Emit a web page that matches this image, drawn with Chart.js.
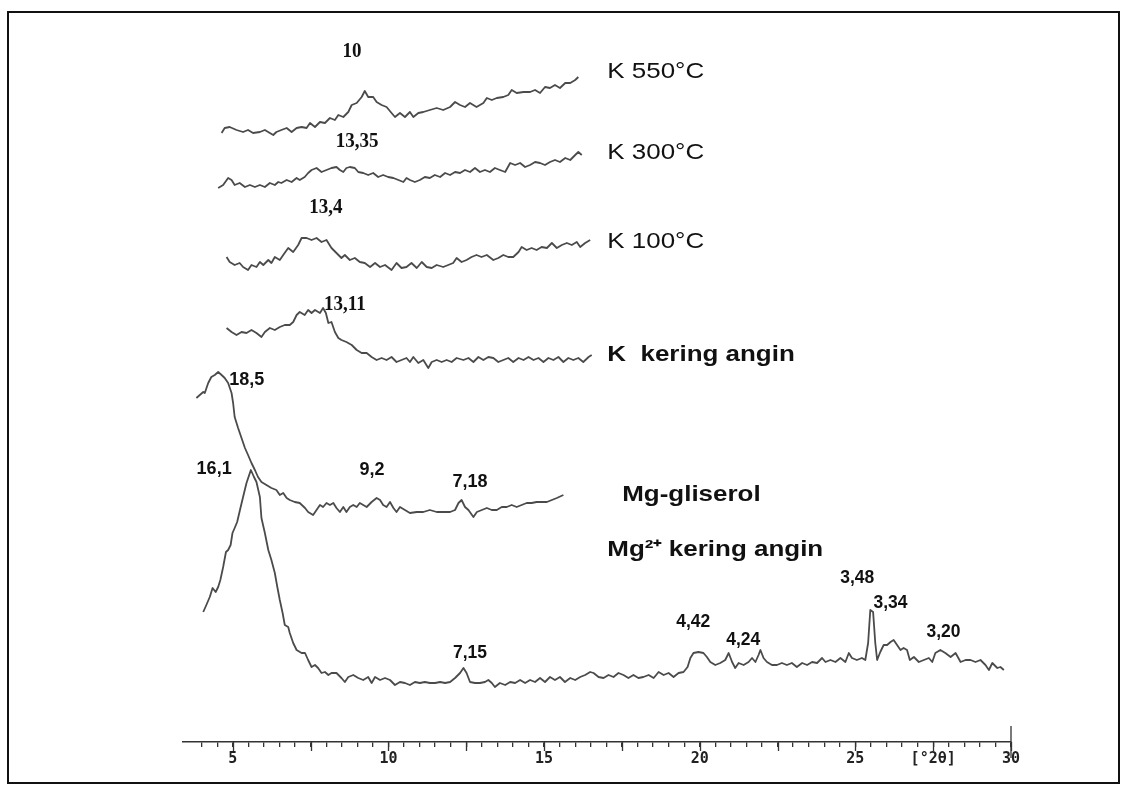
<!DOCTYPE html>
<html>
<head>
<meta charset="utf-8">
<title>XRD</title>
<script src="https://cdn.jsdelivr.net/npm/chart.js@4.4.1/dist/chart.umd.min.js"></script>
<style>
    html, body { margin: 0; padding: 0; background: #fff; overflow: hidden; }
    #wrap { position: relative; width: 1127px; height: 791px; }
    #frame { position: absolute; left: 7px; top: 11px; width: 1113px; height: 773px; border: 2px solid #111; box-sizing: border-box; pointer-events: none; }
</style>
</head>
<body>
<div id="wrap">
    <canvas id="xrdChart"></canvas>
    <div id="frame"></div>
</div>
<script>
// ==================== Data (2theta in degrees, counts in arbitrary units, traces stacked) ====================
const k550Theta = [4.64,4.74,4.90,5.12,5.33,5.49,5.65,5.87,6.03,6.19, 6.30,6.40,6.56,6.73,6.89,7.05,7.21,7.37,7.48,7.64,
    7.80,7.96,8.12,8.28,8.39,8.55,8.71,8.82,8.98,9.14, 9.24,9.35,9.51,9.62,9.78,9.94,10.10,10.21,10.37,10.53,
    10.69,10.80,10.96,11.12,11.33,11.55,11.76,11.98,12.14,12.30, 12.46,12.62,12.83,13.05,13.16,13.32,13.48,13.69,13.85,13.96,
    14.12,14.34,14.55,14.71,14.87,15.03,15.19,15.35,15.51,15.68, 15.84,16.00,16.10];
const k550Counts = [609,614,615,612,610,612,609,610,612,609, 607,610,612,614,610,614,615,614,619,615,
    620,619,624,622,627,625,630,637,639,645, 651,645,645,640,637,635,629,625,629,625,
    630,625,629,630,632,634,632,635,640,637, 635,639,635,639,644,642,644,645,647,652,
    649,650,650,652,649,655,654,657,654,659, 659,662,665];

const k300Theta = [4.53,4.69,4.85,4.96,5.06,5.22,5.39,5.55,5.71,5.87, 6.03,6.19,6.35,6.46,6.56,6.73,6.89,7.05,7.15,7.31,
    7.42,7.53,7.69,7.85,8.01,8.17,8.33,8.44,8.55,8.65, 8.76,8.92,9.03,9.19,9.35,9.51,9.67,9.83,9.99,10.16,
    10.32,10.48,10.58,10.69,10.85,11.01,11.17,11.33,11.49,11.66, 11.82,11.98,12.14,12.30,12.46,12.62,12.78,12.94,13.10,13.26,
    13.42,13.58,13.75,13.91,14.07,14.23,14.39,14.55,14.71,14.87, 15.03,15.19,15.35,15.51,15.68,15.84,16.00,16.10,16.21];
const k300Counts = [554,557,564,562,557,559,555,557,555,557, 555,559,557,560,559,562,560,564,562,565,
    569,572,574,570,572,574,575,572,570,574, 575,574,570,569,567,569,565,567,565,564,
    562,560,564,562,560,562,565,564,567,565, 569,567,570,569,572,570,574,570,572,570,
    574,572,570,579,577,579,575,577,580,579, 577,580,582,580,584,582,587,590,587];

const k100Theta = [4.80,4.90,5.06,5.22,5.33,5.49,5.60,5.76,5.87,5.98, 6.14,6.24,6.35,6.51,6.62,6.78,6.94,7.10,7.21,7.37,
    7.53,7.69,7.85,8.01,8.17,8.33,8.49,8.60,8.76,8.92, 9.08,9.24,9.41,9.57,9.73,9.89,10.10,10.26,10.42,10.58,
    10.74,10.91,11.07,11.23,11.39,11.55,11.76,11.92,12.08,12.19, 12.35,12.51,12.67,12.83,12.99,13.16,13.37,13.53,13.69,13.85,
    14.01,14.18,14.28,14.44,14.60,14.76,14.92,15.09,15.25,15.41, 15.57,15.73,15.89,16.05,16.16,16.32,16.48];
const k100Counts = [485,480,477,479,475,472,477,475,480,477, 482,479,485,482,487,494,490,497,504,504,
    502,504,500,502,494,489,484,487,482,484, 480,479,475,479,475,477,472,479,474,475,
    479,474,480,475,474,477,475,477,479,484, 480,482,485,487,485,487,482,484,487,485,
    485,490,495,492,494,492,495,494,499,494, 497,499,497,500,495,499,502];

const kAirTheta = [4.80,4.96,5.12,5.28,5.44,5.60,5.76,5.92,6.03,6.19, 6.35,6.51,6.67,6.83,6.94,7.05,7.15,7.31,7.42,7.53,
    7.64,7.80,7.90,7.99,8.07,8.17,8.28,8.39,8.49,8.65, 8.82,8.98,9.14,9.30,9.46,9.62,9.78,9.94,10.10,10.26,
    10.42,10.58,10.69,10.80,10.96,11.12,11.28,11.39,11.55,11.71, 11.87,12.03,12.19,12.41,12.57,12.73,12.89,13.05,13.21,13.37,
    13.53,13.69,13.85,14.01,14.18,14.34,14.50,14.66,14.82,14.98, 15.14,15.30,15.46,15.62,15.78,15.94,16.10,16.26,16.43,16.53];
const kAirCounts = [414,410,407,410,409,412,409,405,410,414, 412,415,417,417,420,427,430,427,432,429,
    432,429,434,429,419,420,410,404,402,400, 397,392,389,389,385,382,384,382,385,380,
    382,384,380,385,379,382,374,380,382,380, 382,380,384,382,384,380,385,382,385,384,
    380,382,384,380,384,382,385,382,384,380, 384,382,385,380,384,382,384,380,385,387];

const mgGlyTheta = [3.83,3.94,4.05,4.10,4.21,4.31,4.42,4.53,4.64,4.74, 4.85,4.96,5.01,5.06,5.17,5.28,5.39,5.49,5.60,5.71,
    5.81,5.92,6.08,6.24,6.40,6.51,6.62,6.73,6.83,6.99, 7.15,7.32,7.42,7.58,7.69,7.80,7.90,8.01,8.12,8.23,
    8.33,8.44,8.55,8.65,8.76,8.87,8.98,9.08,9.19,9.30, 9.46,9.62,9.73,9.83,9.94,10.05,10.16,10.26,10.37,10.53,
    10.69,10.91,11.12,11.33,11.55,11.76,11.98,12.14,12.25,12.35, 12.46,12.57,12.73,12.84,13.00,13.16,13.32,13.48,13.64,13.80,
    13.96,14.12,14.28,14.44,14.60,14.76,14.92,15.09,15.25,15.41, 15.62];
const mgGlyCounts = [344,347,350,349,359,365,367,370,367,364, 359,349,339,325,314,304,294,287,279,272,
    265,260,257,254,252,247,249,244,242,240, 239,234,230,227,232,237,235,239,237,239,
    234,230,235,230,235,237,235,239,237,235, 240,244,242,237,235,240,234,230,235,232,
    229,230,230,232,230,230,230,232,239,242, 235,232,225,230,232,234,232,232,235,235,
    237,235,237,239,239,240,240,240,242,244, 247];

const mgAirTheta = [4.05,4.15,4.26,4.35,4.45,4.53,4.60,4.69,4.78,4.85, 4.93,4.99,5.06,5.14,5.23,5.33,5.44,5.58,5.68,5.76,
    5.87,5.92,6.03,6.14,6.24,6.35,6.43,6.51,6.60,6.67, 6.78,6.83,6.94,7.05,7.21,7.32,7.42,7.53,7.64,7.74,
    7.85,7.96,8.07,8.17,8.33,8.49,8.60,8.71,8.87,9.03, 9.19,9.35,9.46,9.57,9.73,9.89,10.05,10.21,10.37,10.53,
    10.69,10.85,11.01,11.17,11.33,11.50,11.66,11.82,11.98,12.14, 12.30,12.41,12.51,12.62,12.78,12.94,13.10,13.21,13.32,13.42,
    13.58,13.75,13.91,14.07,14.23,14.39,14.55,14.71,14.87,15.03, 15.19,15.35,15.51,15.67,15.84,16.00,16.16,16.32,16.48,16.59,
    16.75,16.91,17.07,17.23,17.39,17.55,17.71,17.87,18.03,18.19, 18.36,18.52,18.68,18.84,19.00,19.16,19.32,19.48,19.61,19.70,
    19.80,19.96,20.12,20.23,20.34,20.50,20.66,20.82,20.93,21.04, 21.14,21.25,21.41,21.57,21.68,21.79,21.89,21.95,22.05,22.16,
    22.32,22.48,22.64,22.80,22.96,23.12,23.29,23.45,23.61,23.77, 23.93,24.04,24.20,24.36,24.52,24.68,24.79,24.89,25.05,25.21,
    25.32,25.41,25.48,25.57,25.64,25.70,25.80,25.91,26.02,26.13, 26.23,26.34,26.45,26.55,26.66,26.75,26.88,27.04,27.20,27.36,
    27.47,27.57,27.73,27.89,28.06,28.22,28.38,28.54,28.70,28.86, 29.02,29.18,29.29,29.40,29.56,29.66,29.77];
const mgAirCounts = [130,137,145,154,150,155,162,175,190,192, 197,209,214,220,232,245,259,272,265,260,
    245,224,209,192,182,169,155,142,129,117, 115,109,99,92,89,89,82,75,77,74,
    69,70,67,69,69,64,60,65,67,64, 62,65,59,65,62,64,62,57,60,59,
    57,60,59,60,59,59,60,59,60,64, 69,74,69,60,59,59,60,62,59,55,
    59,57,60,59,62,59,62,60,64,60, 65,62,65,60,64,62,65,67,70,69,
    65,64,67,65,69,67,64,67,64,65, 67,64,70,67,69,65,69,70,75,84,
    89,90,89,85,80,77,79,82,89,80, 74,79,77,80,84,80,87,92,84,80,
    77,77,79,77,79,75,79,77,80,79, 84,80,82,80,84,80,89,84,82,84,
    82,99,132,130,99,82,90,97,97,100, 102,97,92,94,92,82,85,80,82,84,
    80,89,92,89,85,89,80,82,82,80, 82,77,72,79,74,75,72];

// d-spacing labels (Angstrom) and where they sit, in chart units
const peakLabels = ['10', '13,35', '13,4', '13,11', '18,5', '16,1', '9,2', '7,18', '7,15', '4,42', '4,24', '3,48', '3,34', '3,20'];
const peakTheta = [8.83, 8.99, 7.99, 8.60, 5.45, 4.40, 9.47, 12.62, 12.62, 19.79, 21.40, 25.06, 26.13, 27.83];
const peakCounts = [690, 600, 534, 437, 362, 273, 272, 260, 89, 120, 102, 164, 139, 110];

// sample names written to the right of each trace
const sampleNames = ['K 550°C', 'K 300°C', 'K 100°C', 'K  kering angin', 'Mg-gliserol', 'Mg²⁺ kering angin'];
const nameTheta = [17.03, 17.03, 17.03, 17.03, 17.51, 17.03];
const nameCounts = [670, 589, 500, 387, 247, 192];

const thetaMin = 3.4;
const thetaMax = 30;

// ==================== Helpers ====================
function zip(xs, ys) {
    return xs.map((x, i) => ({ x: x, y: ys[i] }));
}

function traceDataset(label, xs, ys) {
    return {
        label: label,
        data: zip(xs, ys),
        borderColor: '#4b4b4b',
        borderWidth: 1.8,
        pointRadius: 0,
        tension: 0,
        fill: false,
        borderJoinStyle: 'round'
    };
}

function drawStretched(ctx, text, x, y, font, sx, align) {
    ctx.save();
    ctx.font = font;
    ctx.textBaseline = 'middle';
    ctx.textAlign = align;
    ctx.fillStyle = '#111';
    ctx.translate(x, y);
    ctx.scale(sx, 1);
    ctx.fillText(text, 0, 0);
    ctx.restore();
}

// ==================== Plugins ====================
const axisExtras = {
    id: 'axisExtras',
    afterDraw(chart) {
        const ctx = chart.ctx;
        const xs = chart.scales.x;
        const bottom = chart.chartArea.bottom;
        ctx.save();
        ctx.strokeStyle = '#333';
        ctx.lineWidth = 1.3;
        // longer marks every 2.5 degrees
        xs.ticks.forEach(t => {
            if (Math.abs(t.value / 2.5 - Math.round(t.value / 2.5)) < 1e-6) {
                const px = Math.round(xs.getPixelForValue(t.value)) + 0.5;
                ctx.beginPath();
                ctx.moveTo(px, bottom);
                ctx.lineTo(px, bottom + 9);
                ctx.stroke();
            }
        });
        // end-of-scan marker
        const endX = xs.getPixelForValue(xs.max);
        ctx.beginPath();
        ctx.moveTo(endX, bottom - 16);
        ctx.lineTo(endX, bottom + 16);
        ctx.stroke();
        ctx.restore();
    }
};

const textLabels = {
    id: 'textLabels',
    afterDatasetsDraw(chart) {
        const ctx = chart.ctx;
        const xs = chart.scales.x;
        const ys = chart.scales.y;

        peakLabels.forEach((txt, i) => {
            let font, sx;
            if (i < 4) { font = 'bold 20px "Liberation Serif", "Times New Roman", serif'; sx = 0.95; }
            else if (i < 8) { font = 'bold 18px "Liberation Sans", Arial, sans-serif'; sx = 1; }
            else { font = 'bold 19px "Liberation Sans", Arial, sans-serif'; sx = 0.92; }
            drawStretched(ctx, txt, xs.getPixelForValue(peakTheta[i]), ys.getPixelForValue(peakCounts[i]), font, sx, 'center');
        });

        sampleNames.forEach((txt, i) => {
            const font = i < 3
                ? '22px "Liberation Sans", Arial, sans-serif'
                : 'bold 22px "Liberation Sans", Arial, sans-serif';
            drawStretched(ctx, txt, xs.getPixelForValue(nameTheta[i]), ys.getPixelForValue(nameCounts[i]), font, 1.18, 'left');
        });
    }
};

// ==================== Chart ====================
document.addEventListener('DOMContentLoaded', function () {
    const ctx = document.getElementById('xrdChart').getContext('2d');

    new Chart(ctx, {
        type: 'line',
        data: {
            datasets: [
                traceDataset('K 550°C', k550Theta, k550Counts),
                traceDataset('K 300°C', k300Theta, k300Counts),
                traceDataset('K 100°C', k100Theta, k100Counts),
                traceDataset('K kering angin', kAirTheta, kAirCounts),
                traceDataset('Mg-gliserol', mgGlyTheta, mgGlyCounts),
                traceDataset('Mg²⁺ kering angin', mgAirTheta, mgAirCounts)
            ]
        },
        options: {
            responsive: true,
            maintainAspectRatio: false,
            animation: false,
            layout: {
                padding: { left: 183, right: 116, top: 42, bottom: 0 }
            },
            plugins: {
                legend: { display: false },
                tooltip: { enabled: false }
            },
            scales: {
                x: {
                    type: 'linear',
                    min: thetaMin,
                    max: thetaMax,
                    border: { display: true, color: '#333', width: 1.5 },
                    grid: {
                        display: true,
                        drawOnChartArea: false,
                        drawTicks: true,
                        tickLength: 5,
                        color: '#333',
                        lineWidth: 1.3
                    },
                    ticks: {
                        stepSize: 0.5,
                        autoSkip: false,
                        maxRotation: 0,
                        padding: 3,
                        color: '#222',
                        font: { family: '"DejaVu Sans Mono", monospace', size: 15, weight: 'bold' },
                        callback: function (value) {
                            if (Math.abs(value % 5) < 1e-6) return String(value);
                            if (Math.abs(value - 27.5) < 1e-6) return '[°2θ]';
                            return '';
                        }
                    },
                    afterBuildTicks: function (axis) {
                        axis.ticks = axis.ticks.filter(t => Math.abs(t.value * 2 - Math.round(t.value * 2)) < 1e-6);
                    },
                    afterFit: function (axis) {
                        axis.height = 49;
                    }
                },
                y: {
                    display: false,
                    min: 0,
                    max: 700
                }
            }
        },
        plugins: [axisExtras, textLabels]
    });
});
</script>
</body>
</html>
